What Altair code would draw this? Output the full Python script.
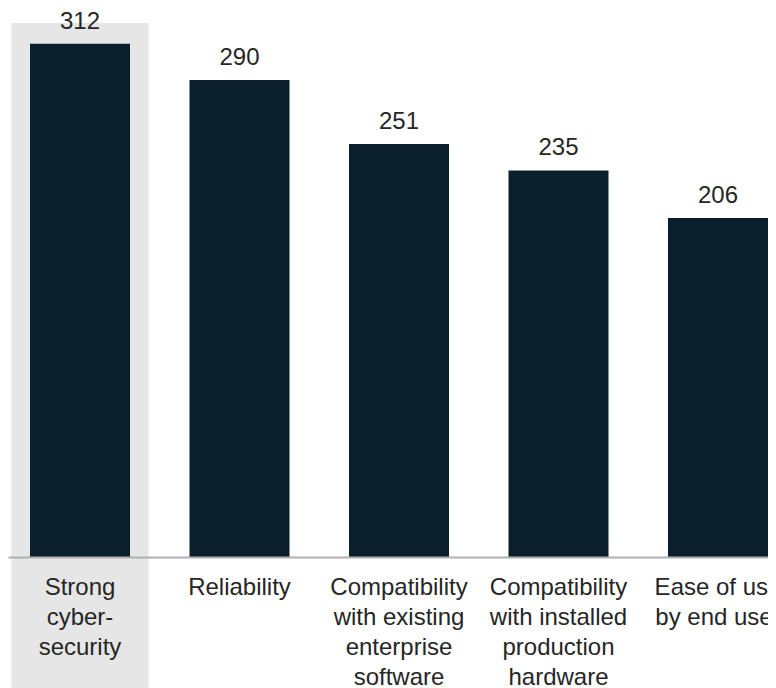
import altair as alt
import pandas as pd

categories = [
    "Strong|cyber-|security",
    "Reliability",
    "Compatibility|with existing|enterprise|software",
    "Compatibility|with installed|production|hardware",
    "Ease of use|by end user",
]
values = [312, 290, 251, 235, 206]
highlighted = ["Strong|cyber-|security"]

df = pd.DataFrame({"category": categories, "value": values})
hl = pd.DataFrame({"category": highlighted})

FONT = "Liberation Sans"
BAR = "#0a1e2b"
TXT = "#262626"

x = alt.X(
    "category:N",
    sort=categories,
    scale=alt.Scale(paddingInner=0.373, paddingOuter=0.069, align=1),
    axis=alt.Axis(
        title=None,
        labelAngle=0,
        ticks=False,
        domainColor="#b0b0b0",
        domainWidth=2,
        labelFont=FONT,
        labelFontSize=24,
        labelColor=TXT,
        labelLineHeight=30,
        labelPadding=18,
        labelBaseline="top",
        labelExpr="split(datum.label, '|')",
        labelOverlap=False,
        labelBound=False,
        labelFlush=False,
        zindex=1,
    ),
)
yscale = alt.Scale(domain=[0, 333.7], nice=False, zero=True)

highlight = alt.Chart(hl).mark_bar(width=137, color="#e6e6e6").encode(
    x=x,
    y=alt.value(15),
    y2=alt.value(680),
)

bars = alt.Chart(df).mark_bar(color=BAR, width=100).encode(
    x=x,
    y=alt.Y("value:Q", scale=yscale, axis=None),
)

text = alt.Chart(df).mark_text(
    font=FONT, fontSize=24, color=TXT, baseline="alphabetic", dy=-15
).encode(
    x=x,
    y=alt.Y("value:Q", scale=yscale, axis=None),
    text="value:Q",
)

chart = (
    alt.layer(highlight, bars, text)
    .properties(
        width=760,
        height=549,
        autosize=alt.AutoSizeParams(type="none"),
        padding={"left": 0, "top": 0, "right": 0, "bottom": 131},
        background="white",
    )
    .configure_view(stroke=None)
)

chart.save("out.html", embed_options={"renderer": "svg", "actions": False})
